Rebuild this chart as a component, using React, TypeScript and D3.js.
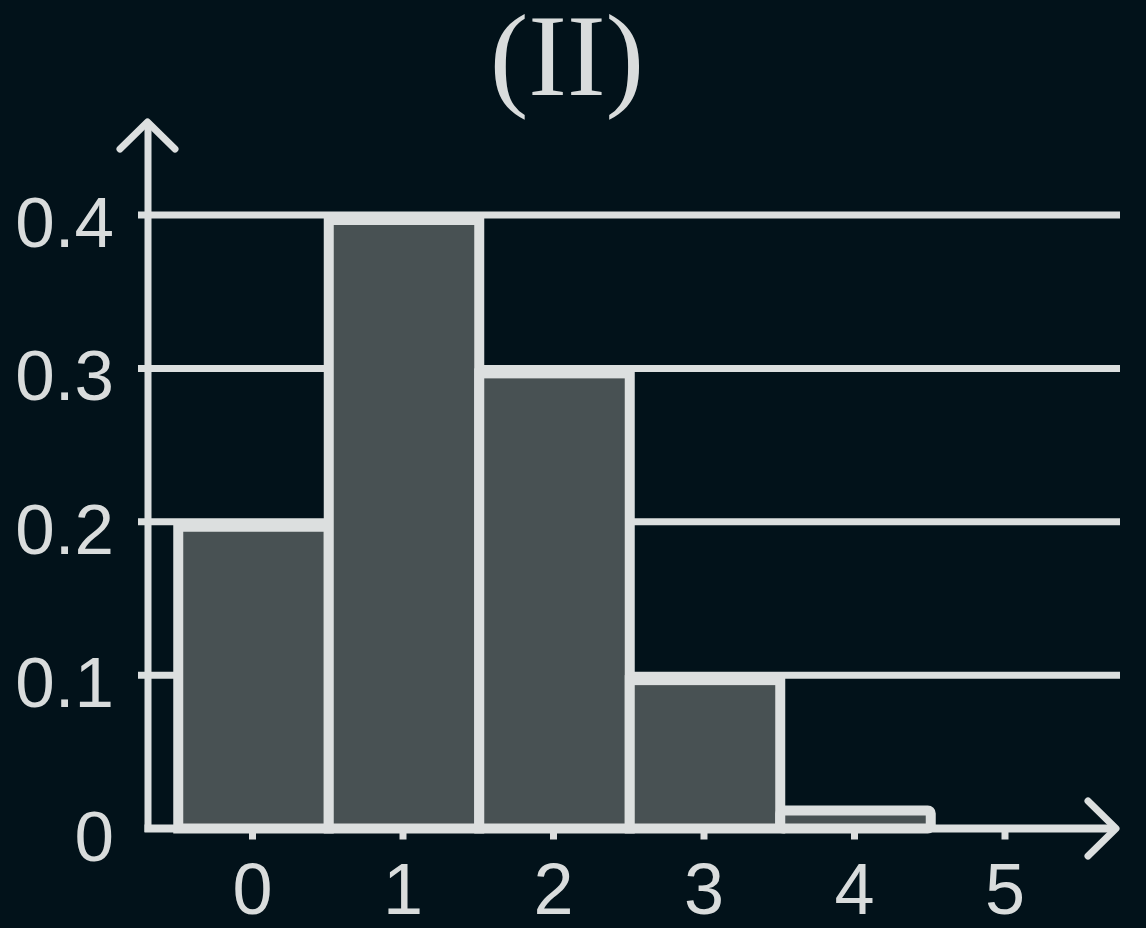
import React from "react";
import * as d3 from "d3";

const categories = [0, 1, 2, 3, 4];
const probabilities = [0.2, 0.4, 0.3, 0.1, 0.015];
const xTickValues = [0, 1, 2, 3, 4, 5];
const yTickValues = [0.1, 0.2, 0.3, 0.4];
const yLabelValues = [0, 0.1, 0.2, 0.3, 0.4];
const title = "(II)";

const W = 1146;
const H = 928;
const BG = "#02121a";
const LINE = "#dcdfdf";
const FILL = "#485153";
const TEXT = "#d9dcdc";

export default function App() {
  const x = d3.scaleLinear().domain([0, 5]).range([252.5, 1005]);
  const y = d3.scaleLinear().domain([0, 0.4]).range([828.5, 215]);
  const sw = 10;
  const fmt = (v: number) => (v === 0 ? "0" : d3.format(".1f")(v));

  return (
    <div style={{ position: "absolute", left: 0, top: 0, width: W, height: H }}>
      <svg width={W} height={H} style={{ display: "block" }}>
        <rect x={0} y={0} width={W} height={H} fill={BG} />
        <text
          x={567}
          y={95}
          textAnchor="middle"
          fontFamily="'Liberation Serif', 'Times New Roman', serif"
          fontSize={116}
          fill={TEXT}
        >
          {title}
        </text>

        {/* gridlines */}
        {yTickValues.map((v) => (
          <line
            key={"g" + v}
            x1={138}
            x2={1120}
            y1={y(v)}
            y2={y(v)}
            stroke={LINE}
            strokeWidth={7}
          />
        ))}

        {/* bars */}
        {categories.map((c, i) => {
          const x0 = x(c - 0.5) + 1;
          const x1 = x(c + 0.5) + 1;
          const top = y(probabilities[i]) + sw / 2;
          const bottom = y(0);
          return (
            <rect
              key={"b" + c}
              x={x0}
              y={top}
              width={x1 - x0}
              height={Math.max(0, bottom - top)}
              fill={FILL}
              stroke={LINE}
              strokeWidth={sw}
              rx={i === 4 ? 3 : 0}
              strokeLinejoin={i === 4 ? "round" : "miter"}
            />
          );
        })}

        {/* y axis */}
        <line x1={148} x2={148} y1={124} y2={832} stroke={LINE} strokeWidth={7} />
        <path
          d={`M120,149 L147.5,122 L175,149`}
          fill="none"
          stroke={LINE}
          strokeWidth={7}
          strokeLinecap="round"
          strokeLinejoin="round"
        />

        {/* x axis */}
        <line x1={144.5} x2={1115} y1={y(0)} y2={y(0)} stroke={LINE} strokeWidth={8} />
        <path
          d={`M1088,801 L1116,828.5 L1088,856`}
          fill="none"
          stroke={LINE}
          strokeWidth={7}
          strokeLinecap="round"
          strokeLinejoin="round"
        />
        {xTickValues.map((v) => (
          <line
            key={"t" + v}
            x1={x(v)}
            x2={x(v)}
            y1={y(0)}
            y2={y(0) + 11}
            stroke={LINE}
            strokeWidth={7}
          />
        ))}

        {/* labels */}
        {xTickValues.map((v) => (
          <text
            key={"xl" + v}
            x={x(v)}
            y={914}
            textAnchor="middle"
            fontFamily="'Liberation Sans', Arial, sans-serif"
            fontSize={72}
            fill={TEXT}
          >
            {v}
          </text>
        ))}
        {yLabelValues.map((v) => (
          <text
            key={"yl" + v}
            x={114}
            y={y(v) + 32}
            textAnchor="end"
            fontFamily="'Liberation Sans', Arial, sans-serif"
            fontSize={71}
            fill={TEXT}
          >
            {fmt(v)}
          </text>
        ))}
      </svg>
    </div>
  );
}
